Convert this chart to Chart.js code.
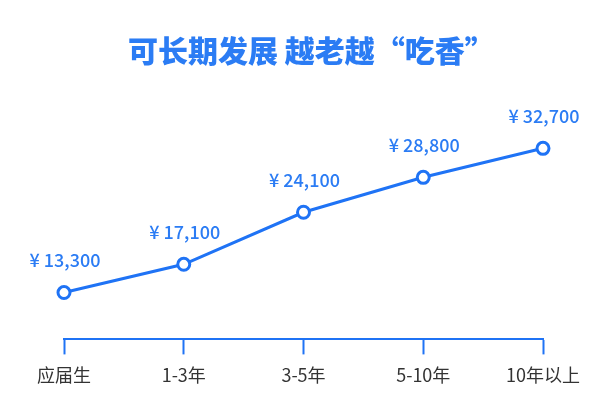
<!DOCTYPE html>
<html>
<head>
<meta charset="utf-8">
<script src="https://cdn.jsdelivr.net/npm/chart.js@4"></script>
<style>
  body { margin: 0; background: #fff; }
  #wrap { width: 613px; height: 407px; }
</style>
</head>
<body>
<div id="wrap"><canvas id="lineChart" width="613" height="407"></canvas></div>
<script>
const categories = ["应届生", "1-3年", "3-5年", "5-10年", "10年以上"];
const salaries = [13300, 17100, 24100, 28800, 32700];
const chartTitle = "可长期发展 越老越“吃香”";

const blue = "#1f73f5";
const cjk = "'Noto Sans CJK SC', 'Noto Sans', sans-serif";

// title drawn by hand so it can sit a bit right of the plot centre
const titleText = {
    id: "titleText",
    afterDraw(chart) {
        const ctx = chart.ctx;
        ctx.save();
        ctx.font = "900 30px " + cjk;
        ctx.fillStyle = "#2b7cf4";
        ctx.textAlign = "left";
        ctx.textBaseline = "middle";
        ctx.fillText(chartTitle, 128, 51);
        ctx.restore();
    },
};

// draws the "¥ xx,xxx" text above each point
const valueLabels = {
    id: "valueLabels",
    afterDatasetsDraw(chart) {
        const ctx = chart.ctx;
        const meta = chart.getDatasetMeta(0);
        ctx.save();
        ctx.font = "500 18px " + cjk;
        ctx.fillStyle = "#2b7cf4";
        ctx.textAlign = "center";
        ctx.textBaseline = "middle";
        meta.data.forEach((pt, i) => {
            const v = chart.data.datasets[0].data[i];
            ctx.fillText("¥ " + v.toLocaleString("en-US"), pt.x + 1, pt.y - 32);
        });
        ctx.restore();
    },
};

new Chart(document.getElementById("lineChart"), {
    type: "line",
    data: {
        labels: categories,
        datasets: [
            {
                data: salaries,
                borderColor: blue,
                borderWidth: 3,
                tension: 0,
                pointRadius: 6,
                pointBorderWidth: 3,
                pointBackgroundColor: "#fff",
                pointBorderColor: blue,
            },
        ],
    },
    options: {
        responsive: false,
        animation: false,
        layout: {
            padding: { top: 100, left: 64, right: 70, bottom: 11 },
        },
        plugins: {
            legend: { display: false },
            tooltip: { enabled: false },
            title: { display: false },
        },
        scales: {
            x: {
                offset: false,
                border: { display: true, color: blue, width: 2 },
                grid: {
                    drawOnChartArea: false,
                    drawTicks: true,
                    tickLength: 15,
                    tickWidth: 2,
                    color: blue,
                },
                ticks: {
                    color: "#333",
                    padding: 10,
                    font: { family: cjk, size: 18 },
                },
            },
            y: {
                display: false,
                min: 7000,
                max: 39200,
            },
        },
    },
    plugins: [valueLabels, titleText],
});
</script>
</body>
</html>
